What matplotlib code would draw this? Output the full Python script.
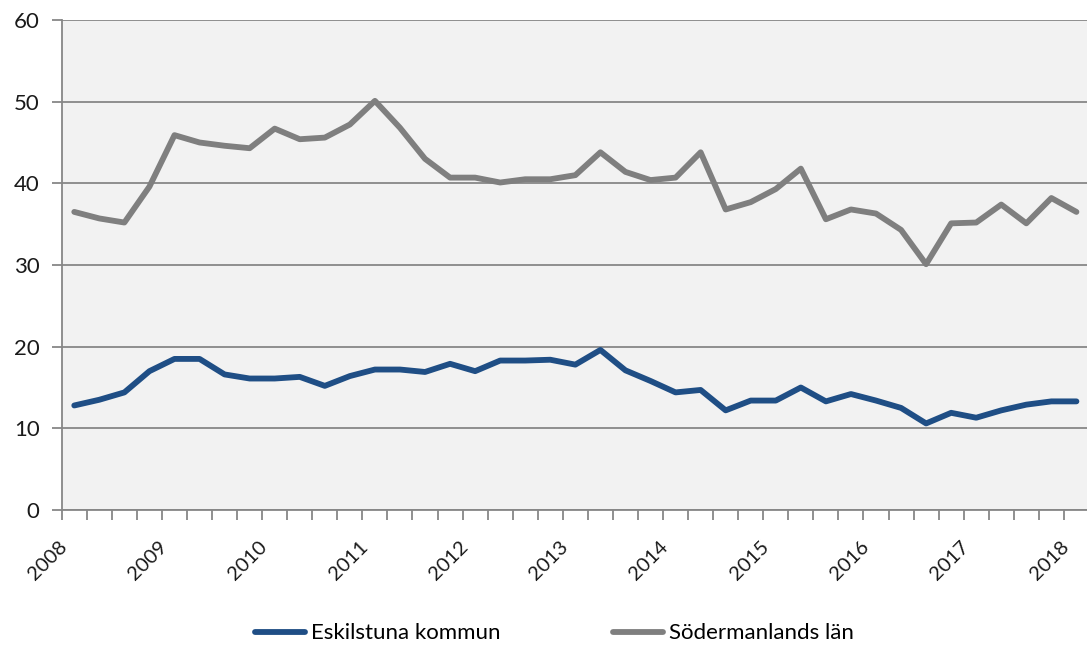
import numpy as np
import matplotlib.pyplot as plt
import matplotlib.transforms as mtransforms

# quarterly values, 2008 Q1 .. 2018 Q1
years = [str(y) for y in range(2008, 2019)]
eskilstuna = [12.8, 13.5, 14.4, 17.0, 18.5, 18.5, 16.6, 16.1, 16.1, 16.3,
              15.2, 16.4, 17.2, 17.2, 16.9, 17.9, 17.0, 18.3, 18.3, 18.4,
              17.8, 19.6, 17.1, 15.8, 14.4, 14.7, 12.2, 13.4, 13.4, 15.0,
              13.3, 14.2, 13.4, 12.5, 10.6, 11.9, 11.3, 12.2, 12.9, 13.3,
              13.3]
sodermanland = [36.5, 35.7, 35.2, 39.6, 45.9, 45.0, 44.6, 44.3, 46.7, 45.4,
                45.6, 47.2, 50.1, 46.8, 43.0, 40.7, 40.7, 40.1, 40.5, 40.5,
                41.0, 43.8, 41.4, 40.4, 40.7, 43.8, 36.8, 37.7, 39.3, 41.8,
                35.6, 36.8, 36.3, 34.3, 30.1, 35.1, 35.2, 37.4, 35.1, 38.2,
                36.5]

plt.rcParams['font.family'] = ['Lato', 'DejaVu Sans']

fig = plt.figure(figsize=(10.87, 6.45), dpi=100)
ax = fig.add_axes([0.0568, 0.2093, 0.945, 0.7597])
ax.set_facecolor('#f2f2f2')

x = np.arange(len(eskilstuna))
ax.plot(x, eskilstuna, color='#1f4e85', lw=4.2, label='Eskilstuna kommun',
        solid_joinstyle='round', solid_capstyle='round')
ax.plot(x, sodermanland, color='#7f7f7f', lw=4.2, label='Södermanlands län',
        solid_joinstyle='round', solid_capstyle='round')

ax.set_xlim(-0.5, len(x) - 0.5)
ax.set_ylim(0, 60)
ax.set_yticks(range(0, 61, 10))
ax.yaxis.grid(True, color='#878787', lw=1.3)
ax.set_axisbelow(True)

# category boundary ticks, year labels on Q1
ax.set_xticks(np.arange(-0.5, len(x) + 0.5, 1))
ax.set_xticklabels([])
ax.set_xticks(np.arange(0, len(x), 4), minor=True)
ax.set_xticklabels(years, minor=True, rotation=45, ha='right',
                   rotation_mode='anchor', fontsize=14.5, color='#1a1a1a')
ax.tick_params(axis='x', which='major', length=7, width=1.3, color='#878787')
ax.tick_params(axis='x', which='minor', length=0, pad=20)
ax.tick_params(axis='y', length=7, width=1.3, color='#878787', pad=9,
               labelsize=16, labelcolor='#1a1a1a')

# nudge year labels a little to the left
shift = mtransforms.ScaledTranslation(-16 / 100, 0, fig.dpi_scale_trans)
for lbl in ax.get_xticklabels(minor=True):
    lbl.set_transform(lbl.get_transform() + shift)

for s in ['top', 'right']:
    ax.spines[s].set_visible(False)
for s in ['left', 'bottom']:
    ax.spines[s].set_color('#878787')
    ax.spines[s].set_linewidth(1.3)

fig.legend(loc='center', bbox_to_anchor=(0.51, 0.018), ncol=2, frameon=False,
           fontsize=16, handlelength=2.25, handletextpad=0.25,
           columnspacing=5.1)

fig.savefig('out.png', dpi=100, facecolor='white')
